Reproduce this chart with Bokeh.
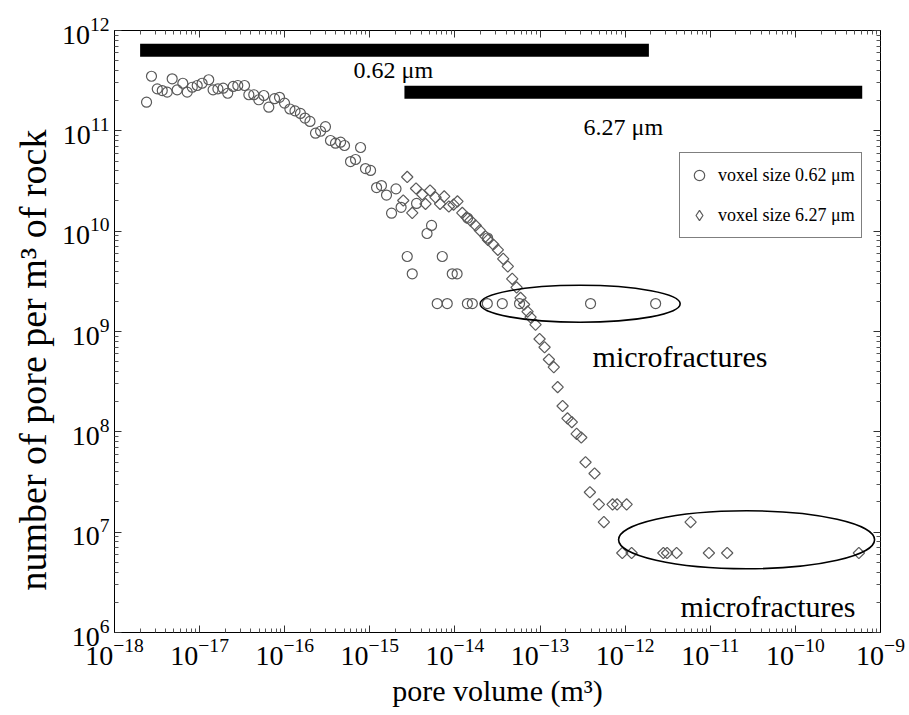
import numpy as np
from bokeh.plotting import figure
from bokeh.models import LogAxis, FixedTicker, Legend, LegendItem, Label, Range1d, Title
from bokeh.embed import file_html
from bokeh.resources import INLINE

# ---------------- data ----------------
# voxel size 0.62 um  (circles)
vol_062 = [2.38e-18, 2.72e-18, 3.18e-18, 3.64e-18, 4.16e-18, 4.76e-18, 5.45e-18, 6.35e-18,
           7.15e-18, 8.19e-18, 9.37e-18, 1.07e-17, 1.28e-17, 1.44e-17, 1.64e-17, 1.89e-17,
           2.14e-17, 2.48e-17, 2.81e-17, 3.37e-17, 3.79e-17, 4.33e-17, 4.96e-17, 5.68e-17,
           6.50e-17, 7.59e-17, 8.69e-17, 9.95e-17, 1.15e-16, 1.32e-16, 1.53e-16, 1.73e-16,
           1.98e-16, 2.30e-16, 2.64e-16, 3.01e-16, 3.45e-16, 3.95e-16, 4.53e-16, 5.04e-16,
           5.93e-16, 6.79e-16, 7.78e-16, 8.89e-16, 1.02e-15, 1.20e-15, 1.37e-15, 1.57e-15,
           1.80e-15, 2.03e-15, 2.33e-15, 2.75e-15, 3.15e-15, 3.54e-15, 4.70e-15, 5.31e-15,
           6.19e-15, 7.10e-15, 8.12e-15, 9.30e-15, 1.06e-14, 1.40e-14, 1.41e-14, 1.60e-14,
           2.40e-14, 2.42e-14, 3.60e-14, 5.74e-14, 3.92e-13, 2.28e-12]
n_062 = [1.93e11, 3.50e11, 2.62e11, 2.52e11, 2.43e11, 3.30e11, 2.56e11, 2.98e11,
         2.43e11, 2.72e11, 2.83e11, 2.98e11, 3.23e11, 2.56e11, 2.62e11, 2.66e11,
         2.37e11, 2.77e11, 2.83e11, 2.83e11, 2.29e11, 2.29e11, 2.04e11, 2.25e11,
         1.72e11, 2.09e11, 2.16e11, 1.89e11, 1.65e11, 1.58e11, 1.49e11, 1.34e11,
         1.24e11, 9.47e10, 9.91e10, 1.10e11, 8.01e10, 7.53e10, 7.71e10, 7.14e10,
         4.94e10, 5.18e10, 6.82e10, 4.21e10, 4.03e10, 2.72e10, 2.85e10, 2.29e10,
         1.51e10, 2.64e10, 1.73e10, 5.59e9, 3.76e9, 1.89e10, 9.48e9, 1.14e10,
         1.9e9, 5.59e9, 1.9e9, 3.76e9, 3.76e9, 1.9e9, 1.35e10, 1.9e9,
         1.9e9, 8.55e9, 1.9e9, 1.9e9, 1.9e9, 1.9e9]

# voxel size 6.27 um  (diamonds)
vol_627 = [2.47e-15, 2.75e-15, 3.15e-15, 3.49e-15, 4.13e-15, 4.51e-15, 5.10e-15, 5.92e-15,
           6.68e-15, 7.48e-15, 8.48e-15, 9.63e-15, 1.07e-14, 1.22e-14, 1.37e-14, 1.52e-14,
           1.75e-14, 1.96e-14, 2.29e-14, 2.44e-14, 2.82e-14, 3.19e-14, 3.69e-14, 4.18e-14,
           4.71e-14, 5.30e-14, 5.90e-14, 6.49e-14, 7.13e-14, 7.73e-14, 8.85e-14, 9.87e-14,
           1.13e-13, 1.27e-13, 1.45e-13, 1.61e-13, 1.84e-13, 2.10e-13, 2.36e-13, 2.69e-13,
           3.05e-13, 3.42e-13, 3.85e-13, 4.37e-13, 4.91e-13, 5.62e-13, 7.11e-13, 8.04e-13,
           9.25e-13, 1.04e-12, 1.19e-12, 2.81e-12, 3.11e-12, 4.02e-12, 5.87e-12, 9.63e-12,
           1.58e-11, 5.57e-10]
n_627 = [2.02e10, 3.47e10, 1.52e10, 2.66e10, 2.32e10, 1.87e10, 2.54e10, 2.17e10,
         1.87e10, 2.22e10, 1.76e10, 1.84e10, 1.98e10, 1.52e10, 1.37e10, 1.28e10,
         1.14e10, 1.02e10, 8.85e9, 8.20e9, 7.36e9, 6.52e9, 5.30e9, 4.45e9,
         3.35e9, 2.75e9, 2.16e9, 1.86e9, 1.58e9, 1.39e9, 1.17e9, 8.42e8,
         6.97e8, 5.26e8, 4.41e8, 2.79e8, 1.81e8, 1.36e8, 1.25e8, 9.55e7,
         8.78e7, 4.98e7, 2.50e7, 3.84e7, 1.89e7, 1.26e7, 1.89e7, 1.89e7,
         6.2e6, 1.89e7, 6.2e6, 6.2e6, 6.2e6, 6.2e6, 1.26e7, 6.2e6,
         6.2e6, 6.2e6]

# pore-volume ranges resolved at each voxel size (black bars)
range_062 = [2.0e-18, 1.9e-12]
range_627 = [2.55e-15, 6.1e-10]

x_major = [10.0 ** k for k in range(-18, -8)]
x_minor = [m * 10.0 ** k for k in range(-18, -9) for m in range(2, 10)]
y_major = [10.0 ** k for k in range(6, 13)]
y_minor = [m * 10.0 ** k for k in range(6, 12) for m in range(2, 10)]

FONT = "'Liberation Serif', 'Times New Roman', serif"
MARK = "#5a5a5a"

p = figure(frame_width=766, frame_height=602,
           x_axis_type="log", y_axis_type="log",
           x_range=Range1d(1e-18, 1e-9), y_range=Range1d(1e6, 1e12),
           output_backend="svg", toolbar_location=None,
           min_border_left=114, min_border_right=29, min_border_top=30, min_border_bottom=0)
p.grid.visible = False
p.outline_line_color = "black"
p.outline_line_width = 1

xa = p.below[0]
ya = p.left[0]

xt = FixedTicker(ticks=x_major, minor_ticks=x_minor)
yt = FixedTicker(ticks=y_major, minor_ticks=y_minor)
xa.ticker = xt
ya.ticker = yt

top = LogAxis(ticker=xt)
right = LogAxis(ticker=yt)
p.add_layout(top, "above")
p.add_layout(right, "right")

for ax in [xa, ya, top, right]:
    ax.major_tick_in = 7
    ax.major_tick_out = 0
    ax.minor_tick_in = 4
    ax.minor_tick_out = 0
    ax.axis_line_color = "black"
    ax.major_tick_line_color = "#333333"
    ax.minor_tick_line_color = "#555555"
    ax.major_label_text_font = FONT
    ax.major_label_text_color = "black"

for ax in [top, right]:
    ax.major_label_text_font_size = "1px"
    ax.major_label_text_alpha = 0
    ax.major_label_standoff = 0

xa.major_label_text_font_size = "28px"
ya.major_label_text_font_size = "28px"
xa.major_label_standoff = 6
ya.major_label_standoff = 5

# axis titles
xtitle = Title(text="pore volume (m³)", align="center", text_font=FONT,
               text_font_size="30px", text_font_style="normal", text_color="black",
               standoff=8)
ytitle = Title(text="number of pore per m³ of rock", align="left", text_font=FONT,
               text_font_size="38px", text_font_style="normal", text_color="black",
               offset=42, standoff=10)
p.add_layout(xtitle, "below")
p.add_layout(ytitle, "left")

# resolution bars
p.segment(x0=[range_062[0]], x1=[range_062[1]], y0=[6.36e11], y1=[6.36e11],
          line_color="black", line_width=13, line_cap="butt")
p.segment(x0=[range_627[0]], x1=[range_627[1]], y0=[2.43e11], y1=[2.43e11],
          line_color="black", line_width=13, line_cap="butt")

r1 = p.scatter(vol_062, n_062, marker="circle", size=10, fill_color=None,
               line_color=MARK, line_width=1.2)
r2 = p.scatter(vol_627, n_627, marker="square", angle=np.pi / 4, size=8, fill_color=None,
               line_color=MARK, line_width=1.2)
# hidden twin of the diamonds used only for the legend swatch
r2_key = p.scatter(vol_627, n_627, marker="diamond", size=13, fill_color=None,
                   line_color=MARK, line_width=1.2, visible=False)

# microfracture ellipses
p.ellipse(x=[2.96e-13], y=[1.89e9], width=200, height=37,
          width_units="screen", height_units="screen",
          fill_color=None, line_color="black", line_width=1.6)
p.ellipse(x=[2.67e-11], y=[8.4e6], width=256, height=58,
          width_units="screen", height_units="screen",
          fill_color=None, line_color="black", line_width=1.6)

for (x, y, t, fs, base) in [
    (6.43e-16, 4.08e11, "0.62 μm", "24px", "middle"),
    (3.24e-13, 1.08e11, "6.27 μm", "24px", "middle"),
    (4.14e-13, 5.64e8, "microfractures", "30px", "alphabetic"),
    (4.48e-12, 1.82e6, "microfractures", "30px", "alphabetic"),
]:
    p.add_layout(Label(x=x, y=y, text=t, text_font=FONT, text_font_size=fs,
                       text_baseline=base, text_align="left", text_color="black"))

legend = Legend(items=[LegendItem(label="voxel size 0.62 μm", renderers=[r1]),
                       LegendItem(label="voxel size 6.27 μm", renderers=[r2_key])],
                location=(565, 394))
legend.label_text_font = FONT
legend.label_text_font_size = "18px"
legend.label_text_color = "black"
legend.padding = 6
legend.glyph_width = 26
legend.glyph_height = 32
legend.spacing = 8
legend.label_standoff = 6
legend.border_line_color = "black"
legend.border_line_width = 1.5
legend.background_fill_color = "white"
legend.background_fill_alpha = 1.0
legend.margin = 0
p.add_layout(legend)

open("out.html", "w").write(file_html(p, INLINE))
